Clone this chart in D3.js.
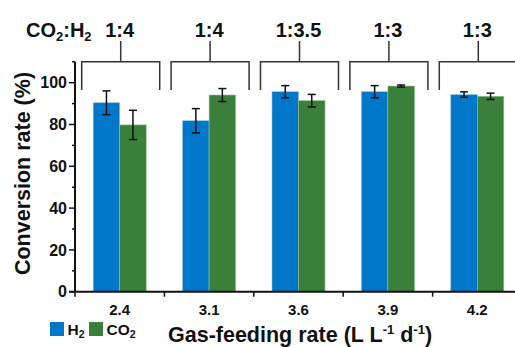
<!DOCTYPE html>
<html><head><meta charset="utf-8">
<script src="https://cdn.jsdelivr.net/npm/d3@7"></script>
<style>
body{margin:0;background:#fff;}
svg text{font-family:"Liberation Sans",Arial,sans-serif;font-weight:bold;fill:#111;}
</style></head>
<body><svg id="c" width="515" height="347"></svg>
<script>
const categories = ["2.4","3.1","3.6","3.9","4.2"];
const ratios = ["1:4","1:4","1:3.5","1:3","1:3"];
const series = ["H2","CO2"];
const h2Values = [90.4, 81.8, 95.7, 95.7, 94.3];
const h2Errors = [5.7, 5.8, 2.9, 2.9, 1.3];
const co2Values = [79.8, 94.1, 91.4, 98.4, 93.5];
const co2Errors = [7.0, 3.1, 3.0, 0.5, 1.5];
const yTicks = [0, 20, 40, 60, 80, 100];
const colors = {H2: "#0077c8", CO2: "#3a7f3a"};

const svg = d3.select("#c");
const x0 = 75, x1 = 522, yBottom = 291.7, yTop = 61.8;

const x = d3.scaleBand().domain(categories).range([x0, x1]).paddingInner(0).paddingOuter(0);
const xs = d3.scaleBand().domain(series).range([0, 53]);
const y = d3.scaleLinear().domain([0, 110]).range([yBottom, yTop]);

const data = categories.map((c, i) => ({
  cat: c,
  vals: [
    {s: "H2", v: h2Values[i], e: h2Errors[i]},
    {s: "CO2", v: co2Values[i], e: co2Errors[i]}
  ]
}));

const offset = (x.bandwidth() - 53) / 2;
const g = svg.selectAll("g.grp").data(data).enter().append("g")
  .attr("transform", d => `translate(${x(d.cat) + offset},0)`);

g.selectAll("rect").data(d => d.vals).enter().append("rect")
  .attr("x", d => xs(d.s)).attr("width", xs.bandwidth())
  .attr("y", d => y(d.v)).attr("height", d => y(0) - y(d.v))
  .attr("fill", d => colors[d.s])
  .attr("stroke", d => d.s === "H2" ? "#8cc4ea" : "#8fbf8f").attr("stroke-width", 0.6);

// error bars
const eb = g.selectAll("g.eb").data(d => d.vals).enter().append("g")
  .attr("stroke", "#111").attr("stroke-width", 1.5);
eb.append("line")
  .attr("x1", d => xs(d.s) + xs.bandwidth()/2).attr("x2", d => xs(d.s) + xs.bandwidth()/2)
  .attr("y1", d => y(d.v + d.e)).attr("y2", d => y(d.v - d.e));
eb.append("line")
  .attr("x1", d => xs(d.s) + xs.bandwidth()/2 - 4).attr("x2", d => xs(d.s) + xs.bandwidth()/2 + 4)
  .attr("y1", d => y(d.v + d.e)).attr("y2", d => y(d.v + d.e));
eb.append("line")
  .attr("x1", d => xs(d.s) + xs.bandwidth()/2 - 4).attr("x2", d => xs(d.s) + xs.bandwidth()/2 + 4)
  .attr("y1", d => y(d.v - d.e)).attr("y2", d => y(d.v - d.e));

// Y axis
const yAxis = svg.append("g").attr("transform", `translate(${x0},0)`);
yAxis.append("line").attr("x1", 0).attr("x2", 0).attr("y1", y(110)).attr("y2", y(0))
  .attr("stroke", "#111").attr("stroke-width", 2);
const minor = d3.range(10, 111, 20);
yAxis.selectAll("line.mn").data(minor).enter().append("line")
  .attr("x1", -3).attr("x2", 0).attr("y1", d => y(d)).attr("y2", d => y(d))
  .attr("stroke", "#111").attr("stroke-width", 1.5);
yAxis.selectAll("line.mj").data(yTicks).enter().append("line")
  .attr("x1", -6).attr("x2", 0).attr("y1", d => y(d)).attr("y2", d => y(d))
  .attr("stroke", "#111").attr("stroke-width", 1.5);
yAxis.selectAll("text.tl").data(yTicks).enter().append("text")
  .attr("x", -8).attr("y", d => y(d)).attr("dy", "0.36em")
  .attr("text-anchor", "end").style("font-size", "16px").text(d => d);

// X axis
const xAxis = svg.append("g");
xAxis.append("line").attr("x1", x0 - 6).attr("x2", 515).attr("y1", yBottom).attr("y2", yBottom)
  .attr("stroke", "#111").attr("stroke-width", 2);
const bounds = categories.map(c => x(c)).concat([x1]);
xAxis.selectAll("line.xt").data(bounds).enter().append("line")
  .attr("x1", d => d).attr("x2", d => d).attr("y1", yBottom).attr("y2", yBottom + 5)
  .attr("stroke", "#111").attr("stroke-width", 1.5);
xAxis.selectAll("text.xl").data(categories).enter().append("text")
  .attr("x", d => x(d) + x.bandwidth()/2).attr("y", 315)
  .attr("text-anchor", "middle").style("font-size", "15px").text(d => d);

// brackets
const br = svg.selectAll("g.br").data(categories).enter().append("g")
  .attr("stroke", "#333").attr("stroke-width", 1.5).attr("fill", "none");
br.append("path").attr("d", d => {
  const c = x(d) + x.bandwidth()/2 + 1;
  return `M${c-39},90V61.7H${c+39}V90M${c},61.7V41`;
});
svg.selectAll("text.rt").data(categories).enter().append("text")
  .attr("x", d => x(d) + x.bandwidth()/2).attr("y", 36.5)
  .attr("text-anchor", "middle").style("font-size", "20px")
  .text((d, i) => ratios[i]);
const lab = svg.append("text").attr("x", 26).attr("y", 36.5).style("font-size", "20px");
lab.append("tspan").text("CO");
lab.append("tspan").attr("dy", 4).style("font-size", "13px").text("2");
lab.append("tspan").attr("dy", -4).text(":H");
lab.append("tspan").attr("dy", 4).style("font-size", "13px").text("2");

// Y title
svg.append("text").attr("transform", "translate(30,173.5) rotate(-90)")
  .attr("text-anchor", "middle").style("font-size", "21.5px").text("Conversion rate (%)");

// X title
const xt = svg.append("text").attr("x", 168).attr("y", 342).style("font-size", "21.5px");
xt.append("tspan").text("Gas-feeding rate (L L");
xt.append("tspan").attr("dy", -8).style("font-size", "13px").text("-1");
xt.append("tspan").attr("dy", 8).text(" d");
xt.append("tspan").attr("dy", -8).style("font-size", "13px").text("-1");
xt.append("tspan").attr("dy", 8).text(")");

// legend
const legX = [50, 89];
const leg = svg.selectAll("g.lg").data(series).enter().append("g")
  .attr("transform", (d, i) => `translate(${legX[i]},322)`);
leg.append("rect").attr("width", 14).attr("height", 14).attr("fill", d => colors[d]);
const lt = leg.append("text").attr("x", 17.5).attr("y", 12.5).style("font-size", "15.5px");
lt.append("tspan").text(d => d.replace("2", ""));
lt.append("tspan").attr("dy", 3).style("font-size", "10.5px").text("2");
</script></body></html>
